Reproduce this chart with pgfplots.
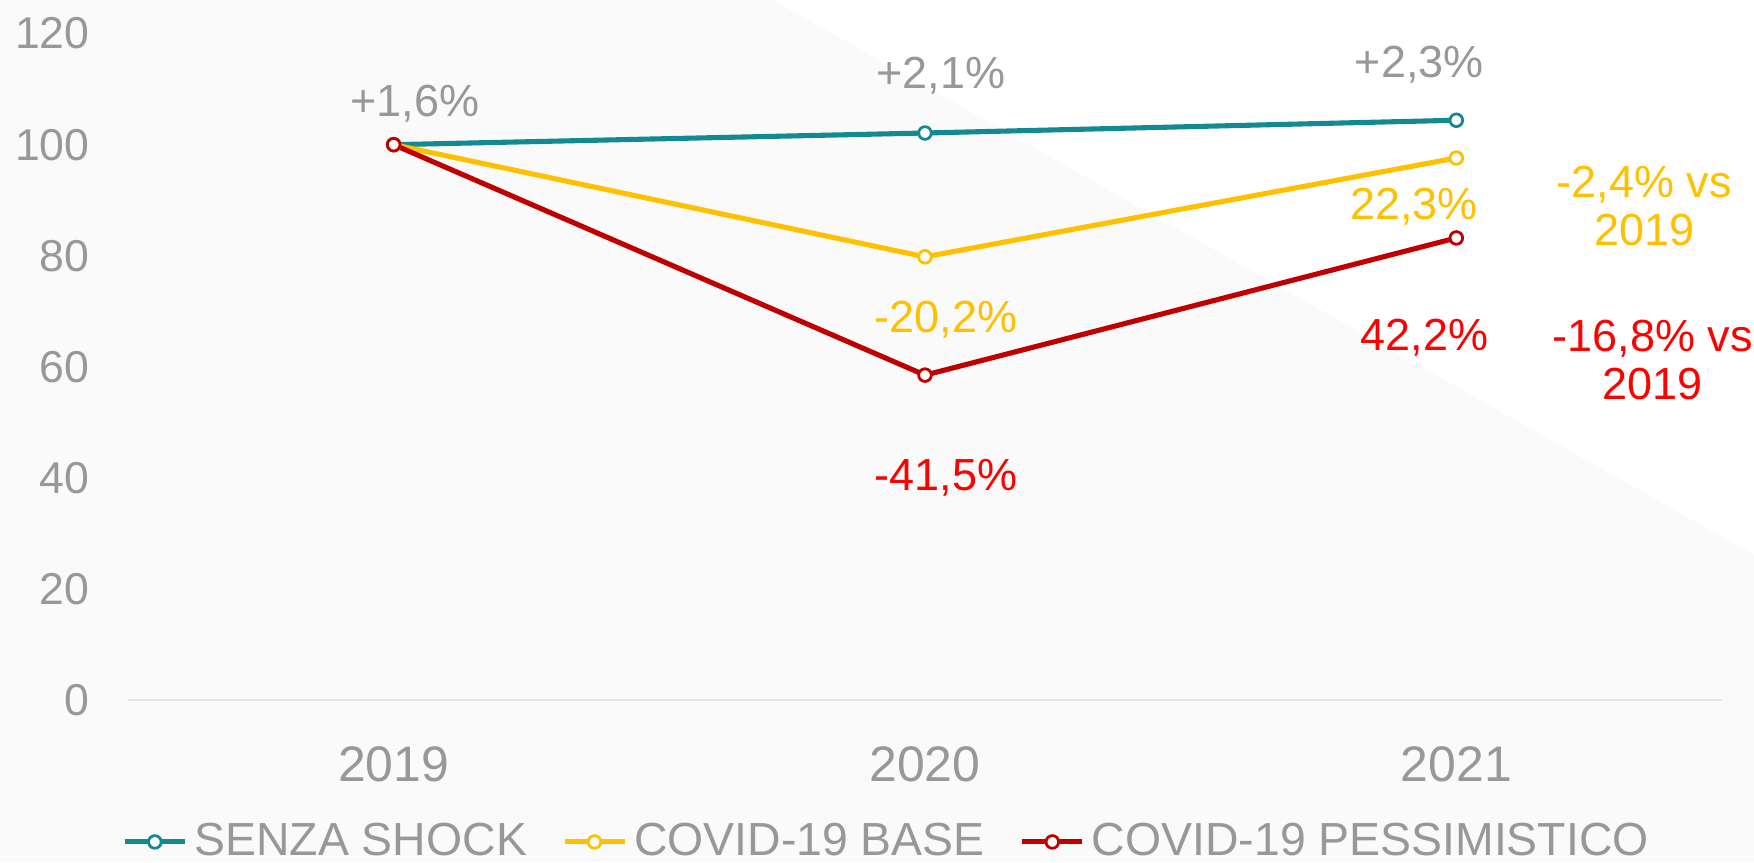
\documentclass[border=0pt]{standalone}
\usepackage{fontspec}
\setmainfont{Liberation Sans}
\usepackage{pgfplots}
\pgfplotsset{compat=1.18}
\definecolor{bgc}{HTML}{FAFAFA}
\definecolor{teal1}{RGB}{19,138,146}
\definecolor{yel}{HTML}{FFC000}
\definecolor{dred}{HTML}{C00000}
\definecolor{rtxt}{HTML}{FF0000}
\definecolor{gtxt}{HTML}{989898}
\definecolor{zline}{HTML}{E6E6E6}
\begin{document}
\begin{tikzpicture}[x=1cm,y=1cm]
\fill[bgc] (0,0) rectangle (17.54,8.62);
\fill[white] (7.73,8.62) -- (17.54,8.62) -- (17.54,3.07) -- cycle;
\useasboundingbox (0,0) rectangle (17.54,8.62);
\begin{axis}[
  at={(1.28cm,1.62cm)}, anchor=south west,
  scale only axis, width=15.94cm, height=6.664cm,
  xmin=-0.5, xmax=2.5, ymin=0, ymax=120,
  xtick={0,1,2}, xticklabels={2019,2020,2021},
  ytick={0,20,40,60,80,100,120},
  axis line style={draw=none},
  major tick length=0pt,
  clip=false,
  /pgf/number format/assume math mode=true,
  yticklabel style={font=\fontsize{12.7}{14}\selectfont, text=gtxt, anchor=east, xshift=-2.6mm},
  xticklabel style={font=\fontsize{14.2}{16}\selectfont, text=gtxt, anchor=north, yshift=-3.4mm},
  legend columns=3,
  legend style={at={(-0.004,-0.213)}, anchor=west, draw=none, fill=none,
    font=\fontsize{13.2}{15}\selectfont, text=gtxt, inner sep=0pt,
    /tikz/every even column/.append style={column sep=2.8mm}},
  legend cell align=left,
  every axis plot/.append style={line width=1.45pt, mark=*, mark size=1.8pt},
]
\draw[zline, line width=0.8pt] (rel axis cs:0,0) -- (rel axis cs:1,0);
\addplot[teal1, mark options={draw=teal1, fill=white, line width=0.8pt}] coordinates {(0,100) (1,102.1) (2,104.4)};
\addlegendentry{SENZA SHOCK}
\addplot[yel, mark options={draw=yel, fill=white, line width=0.8pt}] coordinates {(0,100) (1,79.8) (2,97.6)};
\addlegendentry{COVID-19 BASE}
\addplot[dred, mark options={draw=dred, fill=white, line width=0.8pt}] coordinates {(0,100) (1,58.5) (2,83.2)};
\addlegendentry{COVID-19 PESSIMISTICO}
\begin{scope}[every node/.style={font=\fontsize{12.8}{13.6}\selectfont, align=center}]
\node[text=gtxt] at (axis cs:0.04,107.3) {+1,6\%};
\node[text=gtxt] at (axis cs:1.03,112.5) {+2,1\%};
\node[text=gtxt] at (axis cs:1.93,114.4) {+2,3\%};
\node[text=yel] at (axis cs:1.04,68.4) {-20,2\%};
\node[text=yel] at (axis cs:1.92,88.8) {22,3\%};
\node[text=yel] at (axis cs:2.354,89.0) {-2,4\% vs\\2019};
\node[text=rtxt] at (axis cs:1.94,65.2) {42,2\%};
\node[text=rtxt] at (axis cs:2.37,61.2) {-16,8\% vs\\2019};
\node[text=rtxt] at (axis cs:1.04,40.0) {-41,5\%};
\end{scope}
\end{axis}
\end{tikzpicture}
\end{document}
